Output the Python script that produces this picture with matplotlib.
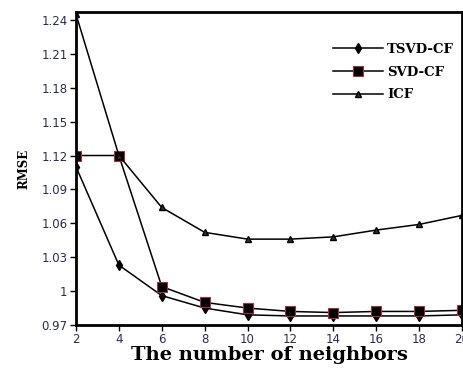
import matplotlib.pyplot as plt

# data
neighbors = [2, 4, 6, 8, 10, 12, 14, 16, 18, 20]
tsvd_cf = [1.110, 1.023, 0.996, 0.985, 0.979, 0.978, 0.978, 0.978, 0.978, 0.979]
svd_cf = [1.120, 1.120, 1.004, 0.990, 0.985, 0.982, 0.981, 0.982, 0.982, 0.983]
icf = [1.245, 1.120, 1.074, 1.052, 1.046, 1.046, 1.048, 1.054, 1.059, 1.067]
yticks = [0.97, 1.0, 1.03, 1.06, 1.09, 1.12, 1.15, 1.18, 1.21, 1.24]
ytick_labels = ['0.97', '1', '1.03', '1.06', '1.09', '1.12', '1.15', '1.18', '1.21', '1.24']

serif = ['DejaVu Serif', 'Liberation Serif']

fig = plt.figure(figsize=(4.64, 3.68), dpi=100)
ax = fig.add_axes([76 / 464, 43 / 368, 386 / 464, 313 / 368])

ax.plot(neighbors, tsvd_cf, color='k', lw=1.1, marker='d', ms=5,
        mfc='k', mec='k', label='TSVD-CF')
ax.plot(neighbors, svd_cf, color='k', lw=1.1, marker='s', ms=7,
        mfc='k', mec='#a03040', mew=0.8, label='SVD-CF')
ax.plot(neighbors, icf, color='k', lw=1.1, marker='^', ms=5,
        mfc='#303030', mec='k', label='ICF')

ax.set_xlim(2, 20)
ax.set_ylim(0.97, 1.247)
ax.set_xticks(neighbors)
ax.set_yticks(yticks)
ax.set_yticklabels(ytick_labels)
ax.tick_params(labelsize=8.5, labelcolor='#2a2a55', length=4, width=1,
               direction='out', pad=2)
for s in ax.spines.values():
    s.set_linewidth(2)

ax.set_xlabel('The number of neighbors', family=serif, fontweight='bold',
              fontsize=14, labelpad=0)
ax.set_ylabel('RMSE', family=serif, fontweight='bold', fontsize=8.5, labelpad=8)

leg = ax.legend(loc='upper right', bbox_to_anchor=(1.01, 0.94), frameon=False,
                handlelength=3.8, handletextpad=0.3, labelspacing=0.75,
                prop={'family': serif, 'weight': 'bold', 'size': 9.5})

fig.savefig('out.png', dpi=100)
